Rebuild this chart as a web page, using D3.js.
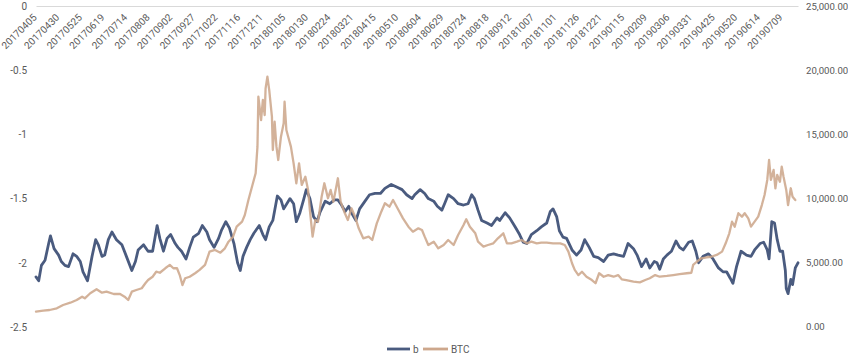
<!DOCTYPE html>
<html><head><meta charset="utf-8">
<script src="https://cdn.jsdelivr.net/npm/d3@7"></script>
<style>
body{margin:0;background:#fff}
svg{display:block}
text{font-family:Roboto,"Open Sans",sans-serif;fill:#595959}
</style>
</head><body>
<svg id="chart" width="848" height="356"></svg>
<script>
// ---- data ----
const tickLabels = ["20170405","20170430","20170525","20170619","20170714","20170808","20170902","20170927","20171022","20171116","20171211","20180105","20180130","20180224","20180321","20180415","20180510","20180604","20180629","20180724","20180818","20180912","20181007","20181101","20181126","20181221","20190115","20190209","20190306","20190331","20190425","20190520","20190614","20190709"];
const startDate = "20170405";
const lastDay = 843; // days after startDate covered by the series

const leftTicks = [0, -0.5, -1, -1.5, -2, -2.5];
const leftTickLabels = ["0", "-0.5", "-1", "-1.5", "-2", "-2.5"];
const rightTicks = [0, 5000, 10000, 15000, 20000, 25000];

const seriesNames = ["b", "BTC"];

// b (left axis): day offset from startDate, value
const bDays = [0,3,6,10,14,16,20,25,28,32,36,41,45,49,52,57,62,66,69,73,76,80,84,89,95,100,106,110,113,119,124,129,134,137,141,145,149,154,157,161,166,170,174,180,184,189,192,197,202,205,210,214,219,223,226,229,233,237,241,247,251,254,258,262,267,271,274,281,285,288,292,296,299,303,307,311,314,320,325,330,334,338,342,346,349,354,358,364,369,375,381,386,393,399,405,410,416,419,425,430,434,440,444,449,452,456,462,467,473,478,482,485,489,493,499,504,510,513,519,524,530,535,539,543,548,554,559,565,569,572,576,579,583,587,593,598,603,607,612,617,622,628,633,639,644,650,655,661,665,670,675,679,684,687,690,694,698,703,708,712,716,722,726,730,733,738,744,749,755,760,764,768,771,775,780,786,791,795,801,805,809,811,814,817,820,823,826,829,830,832,835,837,840,843];
const bValues = [-2.11,-2.14,-2.02,-1.98,-1.85,-1.79,-1.89,-1.94,-1.99,-2.02,-2.03,-1.93,-1.95,-1.99,-2.07,-2.14,-1.95,-1.82,-1.86,-1.95,-1.94,-1.82,-1.76,-1.82,-1.86,-1.95,-2.06,-1.99,-1.90,-1.86,-1.91,-1.91,-1.71,-1.81,-1.91,-1.81,-1.78,-1.85,-1.88,-1.91,-1.97,-1.88,-1.80,-1.77,-1.71,-1.76,-1.82,-1.88,-1.81,-1.75,-1.68,-1.73,-1.85,-2.00,-2.06,-1.95,-1.88,-1.82,-1.77,-1.71,-1.78,-1.82,-1.72,-1.67,-1.48,-1.51,-1.58,-1.50,-1.54,-1.68,-1.61,-1.51,-1.43,-1.50,-1.64,-1.68,-1.61,-1.52,-1.54,-1.51,-1.51,-1.55,-1.60,-1.56,-1.61,-1.67,-1.58,-1.52,-1.47,-1.46,-1.46,-1.42,-1.39,-1.41,-1.43,-1.47,-1.50,-1.47,-1.43,-1.46,-1.50,-1.52,-1.56,-1.59,-1.54,-1.47,-1.50,-1.54,-1.55,-1.54,-1.47,-1.50,-1.59,-1.67,-1.69,-1.71,-1.65,-1.67,-1.61,-1.65,-1.72,-1.78,-1.84,-1.85,-1.78,-1.75,-1.72,-1.69,-1.60,-1.58,-1.64,-1.75,-1.80,-1.81,-1.90,-1.94,-1.90,-1.82,-1.88,-1.95,-1.96,-1.99,-1.94,-1.93,-1.94,-1.95,-1.85,-1.89,-1.94,-2.03,-1.97,-2.04,-1.99,-2.00,-2.05,-1.97,-1.94,-1.91,-1.83,-1.88,-1.90,-1.84,-1.83,-1.91,-2.00,-1.95,-1.93,-1.97,-2.04,-2.07,-2.07,-2.12,-2.16,-2.03,-1.91,-1.94,-1.95,-1.90,-1.85,-1.84,-1.90,-1.97,-1.68,-1.69,-1.82,-1.91,-1.91,-2.06,-2.20,-2.24,-2.13,-2.17,-2.04,-2.00];

// BTC (right axis): day offset from startDate, price
const btcDays = [0,8,15,23,30,38,45,51,54,60,67,73,78,86,93,98,102,106,111,117,121,124,129,133,137,143,148,152,156,159,162,165,170,176,181,187,192,198,204,209,213,218,222,228,231,235,240,243,245,246,249,251,253,254,256,258,261,262,264,266,268,271,274,275,277,279,282,285,288,291,294,298,301,303,306,309,312,316,319,323,326,329,334,337,341,345,349,353,357,362,368,372,377,382,386,391,395,401,406,412,417,423,427,430,434,440,445,451,456,462,467,473,476,480,486,489,495,500,506,511,517,521,526,532,537,543,548,554,559,565,572,580,585,589,593,596,600,604,609,615,619,623,628,633,639,644,648,653,661,668,674,679,685,690,698,705,712,720,725,727,731,736,742,747,753,759,763,767,770,773,777,781,784,788,791,795,799,803,806,809,811,813,816,818,820,823,825,827,830,832,835,837,840];
const btcValues = [1120,1195,1250,1380,1640,1820,2030,2290,2160,2560,2870,2600,2680,2500,2500,2290,2030,2680,2810,2950,3340,3590,3850,4240,4160,4510,4770,4510,4510,3980,3200,3730,3850,4120,4380,4770,5810,5940,5730,6070,6590,6980,7760,8150,8670,9840,11150,11930,14010,17910,16090,17660,16480,18570,19480,18440,16350,13750,15960,14010,12970,14790,15840,17520,15310,14790,14010,12710,11150,12710,11020,11660,10630,9060,6980,8280,8150,10100,11150,9980,10630,9710,11540,9710,8930,8280,9200,8540,7630,6850,6980,6720,8020,8930,9590,9320,9840,9060,8410,7760,7370,7630,7500,6980,6330,6590,6070,6330,6720,6330,7110,7890,8340,7760,7240,6590,6200,6330,6460,6850,7240,6460,6460,6590,6720,6460,6590,6460,6510,6510,6460,6460,6330,5810,4900,4380,3980,4240,3850,3590,3340,4120,3850,3980,3850,3980,3650,3590,3460,3410,3590,3730,3980,3850,3910,3980,4060,4120,4160,4770,5020,5290,5370,5410,5550,5810,6460,7240,8150,7760,8810,8540,8810,8410,7760,8150,8540,9450,10230,11410,12970,11410,12190,10760,11800,11270,12450,11660,10630,9450,10760,10100,9840];

// ---- drawing ----
const svg = d3.select("#chart");
const parse = d3.timeParse("%Y%m%d");
const t0 = parse(startDate);
const tickDays = tickLabels.map(s => d3.timeDay.count(t0, parse(s)));

const x = d3.scaleLinear().domain([0, lastDay]).range([36, 798]);
const yL = d3.scaleLinear().domain([-2.5, 0]).range([327, 6]);
const yR = d3.scaleLinear().domain([0, 25000]).range([326, 6]);

const colors = {b: "#4a5b7f", BTC: "#cda78c"};

// x axis along the zero line (top)
const xAxis = svg.append("g")
  .attr("transform", `translate(0,${yL(0)})`)
  .call(d3.axisBottom(x).tickValues(tickDays).tickSize(0).tickSizeOuter(0)
    .tickFormat((d, i) => tickLabels[i]));
xAxis.select(".domain").attr("stroke", "#d9d9d9").attr("stroke-width", 1);
xAxis.selectAll("text")
  .attr("x", 0).attr("y", 0).attr("dy", 0)
  .attr("transform", "translate(1,12) rotate(-45)")
  .attr("text-anchor", "end")
  .style("font-size", "10px").attr("fill", "#595959");

// left axis
const lAxis = svg.append("g")
  .attr("transform", "translate(27,0)")
  .call(d3.axisLeft(yL).tickValues(leftTicks).tickSize(0).tickPadding(0)
    .tickFormat((d, i) => leftTickLabels[i]));
lAxis.select(".domain").remove();
lAxis.selectAll("text").style("font-size", "10px").attr("fill", "#595959");

// right axis
const rAxis = svg.append("g")
  .attr("transform", "translate(806,0)")
  .call(d3.axisRight(yR).tickValues(rightTicks).tickSize(0).tickPadding(0)
    .tickFormat(d3.format(",.2f")));
rAxis.select(".domain").remove();
rAxis.selectAll("text").style("font-size", "9.6px").attr("fill", "#595959");

// lines
const bData = bDays.map((d, i) => [d, bValues[i]]);
const btcData = btcDays.map((d, i) => [d, btcValues[i]]);

svg.append("path").datum(bData)
  .attr("fill", "none").attr("stroke", colors.b).attr("stroke-width", 2.8)
  .attr("stroke-linejoin", "round").attr("stroke-linecap", "round")
  .attr("d", d3.line().x(d => x(d[0])).y(d => yL(d[1])));

svg.append("path").datum(btcData)
  .attr("fill", "none").attr("stroke", colors.BTC).attr("stroke-width", 2.3)
  .attr("stroke-opacity", 0.88)
  .attr("stroke-linejoin", "round").attr("stroke-linecap", "round")
  .attr("d", d3.line().x(d => x(d[0])).y(d => yR(d[1])));

// legend
const legend = svg.append("g").attr("transform", "translate(0,349)");
const legItems = [{name: seriesNames[0], x0: 387, x1: 410, tx: 413},
                  {name: seriesNames[1], x0: 423, x1: 448, tx: 451}];
legItems.forEach(it => {
  legend.append("line").attr("x1", it.x0).attr("x2", it.x1).attr("y1", 0).attr("y2", 0)
    .attr("stroke", colors[it.name]).attr("stroke-width", 2.8);
  legend.append("text").attr("x", it.tx).attr("y", 0).attr("dy", "0.35em")
    .style("font-size", "10px").attr("fill", "#595959").text(it.name);
});
</script>
</body></html>
